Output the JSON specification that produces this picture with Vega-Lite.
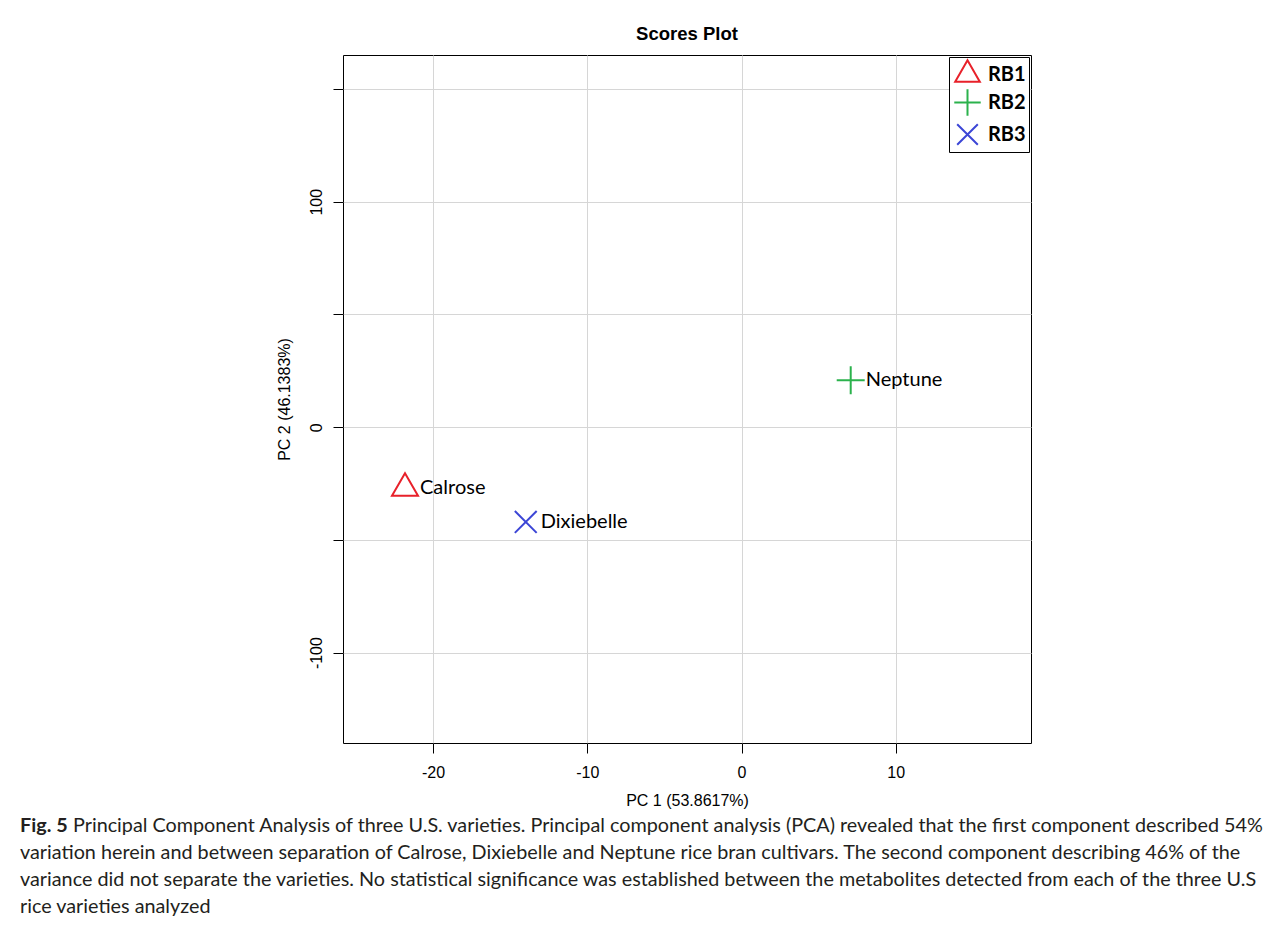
{
  "$schema": "https://vega.github.io/schema/vega-lite/v6.json",
  "background": "white",
  "padding": {"left": 20, "top": 24, "right": 5, "bottom": 5},
  "autosize": {"type": "pad"},
  "spacing": 4,
  "config": {
    "view": {"stroke": "black", "strokeWidth": 1},
    "axis": {
      "domain": false,
      "tickColor": "black",
      "tickSize": 10,
      "tickWidth": 1,
      "labelFont": "Liberation Sans",
      "labelFontSize": 16,
      "labelColor": "black",
      "titleFont": "Liberation Sans",
      "titleFontSize": 16,
      "titleFontWeight": "normal",
      "titleColor": "black",
      "gridColor": "#d6d6d6",
      "gridWidth": 1
    },
    "legend": {
      "orient": "top-right",
      "offset": 2,
      "padding": 3,
      "strokeColor": "black",
      "fillColor": "white",
      "labelFont": "Lato",
      "labelFontSize": 20,
      "labelFontWeight": "bold",
      "labelColor": "black",
      "symbolSize": 700,
      "symbolStrokeWidth": 2,
      "symbolOffset": 1,
      "labelOffset": 6,
      "rowPadding": -1
    },
    "title": {
      "font": "Liberation Sans",
      "fontSize": 18.5,
      "fontWeight": "bold",
      "color": "black"
    }
  },
  "vconcat": [
    {
      "width": 688,
      "height": 688,
      "title": {"text": "Scores Plot", "frame": "group", "anchor": "middle", "offset": -3, "baseline": "alphabetic"},
      "data": {
        "values": [
          {"PC1": -21.82, "PC2": -27.1, "cultivar": "Calrose", "group": "RB1"},
          {"PC1": 7.08, "PC2": 20.85, "cultivar": "Neptune", "group": "RB2"},
          {"PC1": -13.99, "PC2": -42.06, "cultivar": "Dixiebelle", "group": "RB3"}
        ]
      },
      "encoding": {
        "x": {
          "field": "PC1",
          "type": "quantitative",
          "scale": {"domain": [-25.84, 18.77], "nice": false, "zero": false},
          "axis": {
            "title": "PC 1 (53.8617%)",
            "values": [-20, -10, 0, 10],
            "labelExpr": "datum.value < 0 ? '-' + abs(datum.value) : '' + datum.value",
            "labelPadding": 11,
            "titlePadding": 12
          }
        },
        "y": {
          "field": "PC2",
          "type": "quantitative",
          "scale": {"domain": [-140.1, 165.1], "nice": false, "zero": false},
          "axis": {
            "title": "PC 2 (46.1383%)",
            "values": [-100, -50, 0, 50, 100, 150],
            "labelExpr": "datum.value % 100 === 0 ? (datum.value < 0 ? '-' + abs(datum.value) : '' + datum.value) : ''",
            "labelAngle": -90,
            "labelAlign": "center",
            "labelBaseline": "alphabetic",
            "labelPadding": 12,
            "titlePadding": 16
          }
        }
      },
      "layer": [
        {
          "mark": {"type": "point", "filled": false, "strokeWidth": 2, "size": 784, "opacity": 1},
          "encoding": {
            "shape": {
              "field": "group",
              "type": "nominal",
              "scale": {
                "domain": ["RB1", "RB2", "RB3"],
                "range": ["M0,-1.07L-0.93,0.54L0.93,0.54Z", "M-1,0L1,0M0,-1L0,1", "M-0.78,-0.78L0.78,0.78M-0.78,0.78L0.78,-0.78"]
              },
              "legend": {"title": null}
            },
            "color": {
              "field": "group",
              "type": "nominal",
              "scale": {"domain": ["RB1", "RB2", "RB3"], "range": ["#E8212A", "#2BB24C", "#3C46D6"]},
              "legend": {"title": null}
            }
          }
        },
        {
          "mark": {"type": "text", "align": "left", "baseline": "middle", "dx": 15, "font": "Lato", "fontSize": 20, "color": "black"},
          "encoding": {"text": {"field": "cultivar"}}
        }
      ]
    },
    {
      "width": 688,
      "height": 107,
      "view": {"stroke": null},
      "data": {
        "values": [
          {"line": 1, "kind": "lead", "text": "Fig. 5"},
          {"line": 1, "kind": "first", "text": "Principal Component Analysis of three U.S. varieties. Principal component analysis (PCA) revealed that the first component described 54%"},
          {"line": 2, "kind": "body", "text": "variation herein and between separation of Calrose, Dixiebelle and Neptune rice bran cultivars. The second component describing 46% of the"},
          {"line": 3, "kind": "body", "text": "variance did not separate the varieties. No statistical significance was established between the metabolites detected from each of the three U.S"},
          {"line": 4, "kind": "body", "text": "rice varieties analyzed"}
        ]
      },
      "encoding": {
        "y": {"field": "line", "type": "ordinal", "axis": null},
        "x": {"datum": 0, "type": "quantitative", "scale": {"domain": [0, 1]}, "axis": null},
        "text": {"field": "text"}
      },
      "layer": [
        {
          "transform": [{"filter": "datum.kind === 'lead'"}],
          "mark": {"type": "text", "align": "left", "baseline": "middle", "dx": -323, "font": "Lato", "fontSize": 19.8, "fontWeight": "bold", "color": "#231f20"}
        },
        {
          "transform": [{"filter": "datum.kind === 'first'"}],
          "mark": {"type": "text", "align": "left", "baseline": "middle", "dx": -270, "font": "Lato", "fontSize": 19.8, "color": "#231f20"}
        },
        {
          "transform": [{"filter": "datum.kind === 'body'"}],
          "mark": {"type": "text", "align": "left", "baseline": "middle", "dx": -323, "font": "Lato", "fontSize": 19.8, "color": "#231f20"}
        }
      ]
    }
  ]
}
